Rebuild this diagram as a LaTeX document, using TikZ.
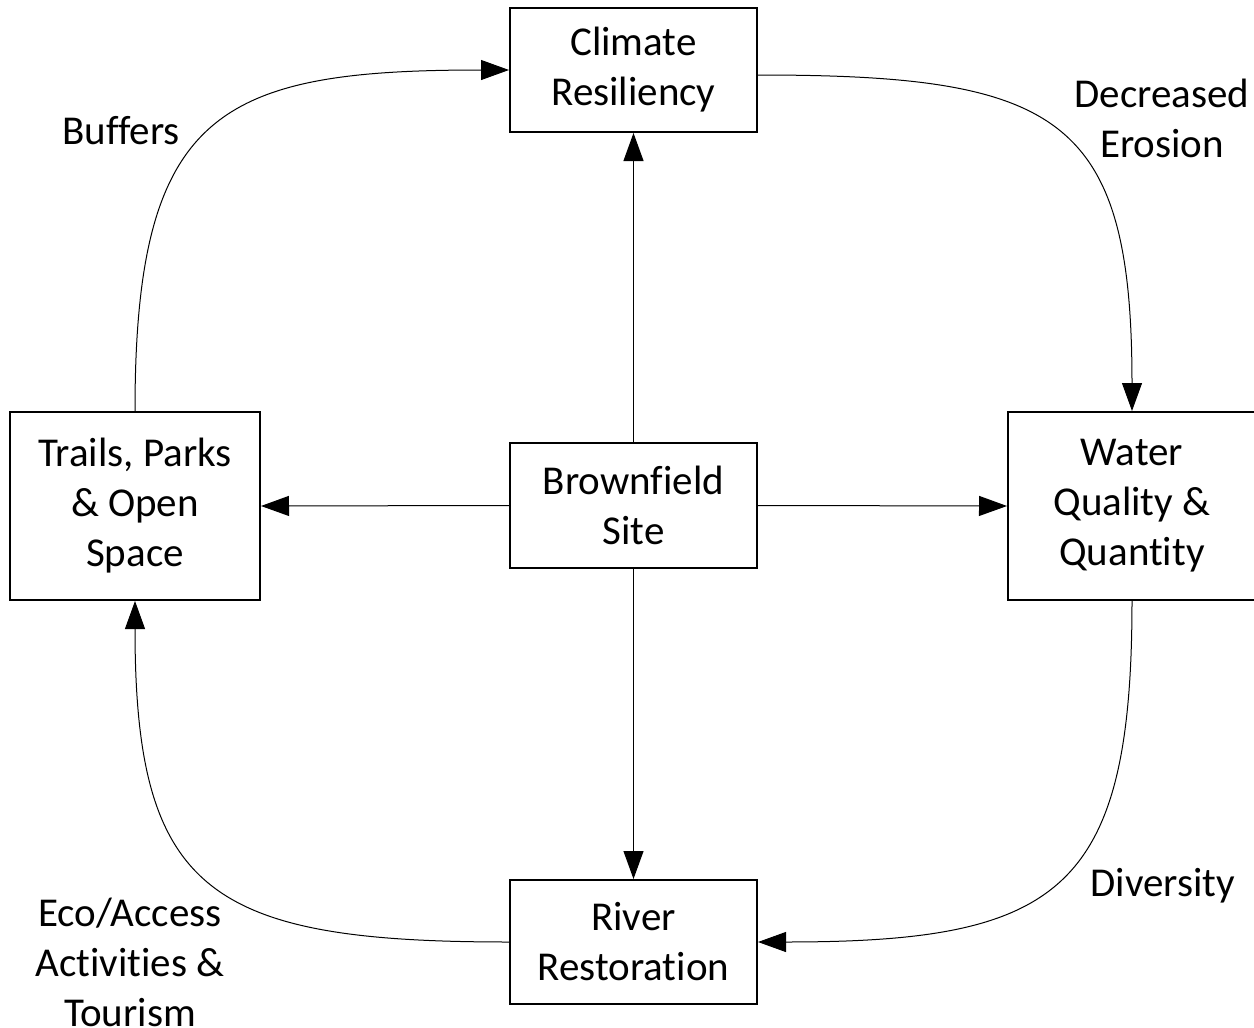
\documentclass[tikz,border=0pt]{standalone}
\usepackage{fontspec}
\setmainfont{Carlito}[Ligatures={NoCommon}]
\usetikzlibrary{arrows.meta}
\begin{document}
\begin{tikzpicture}[x=1pt,y=-1pt,
  box/.style={draw,line width=2pt,align=center,inner sep=0pt,font=\fontsize{41}{50}\selectfont},
  lbl/.style={align=center,inner sep=0pt,font=\fontsize{41}{50}\selectfont},
  conn/.style={line width=1pt,-{Triangle[length=28pt,width=20pt]}}]
\useasboundingbox (0,0) rectangle (1254,1028);
\node[box,minimum width=247pt,minimum height=124pt] (climate) at (633.5,70) {Climate\\Resiliency};
\node[box,minimum width=247pt,minimum height=125pt] (brown) at (633.5,505.5) {Brownfield\\Site};
\node[box,minimum width=247pt,minimum height=124pt] (river) at (633.5,942) {River\\Restoration};
\node[box,minimum width=250pt,minimum height=188pt] (trails) at (135,506) {Trails, Parks\\\& Open\\Space};
\node[box,minimum width=248pt,minimum height=188pt] (water) at (1132,506) {Water\\Quality \&\\Quantity};
\node[lbl] (lbuf) at (121,131) {Buffers};
\node[lbl] (lero) at (1162,118) {Decreased\\Erosion};
\node[lbl] (ldiv) at (1163,886) {Diversity};
\node[lbl] (leco) at (130,962) {Eco/Access\\Activities \&\\Tourism};
\draw[conn] (brown.north) -- (climate.south);
\draw[conn] (brown.west) -- (trails.east);
\draw[conn] (brown.east) -- (water.west);
\draw[conn] (brown.south) -- (river.north);
\draw[conn] (trails.north) .. controls +(0,-300) and +(-290,0) .. (climate.west);
\draw[conn] ([yshift=-5pt]climate.east) .. controls +(301,0) and +(0,-295) .. (water.north);
\draw[conn] (water.south) .. controls +(0,291) and +(301,0) .. (river.east);
\draw[conn] (river.west) .. controls +(-300,0) and +(0,291) .. (trails.south);
\end{tikzpicture}
\end{document}
